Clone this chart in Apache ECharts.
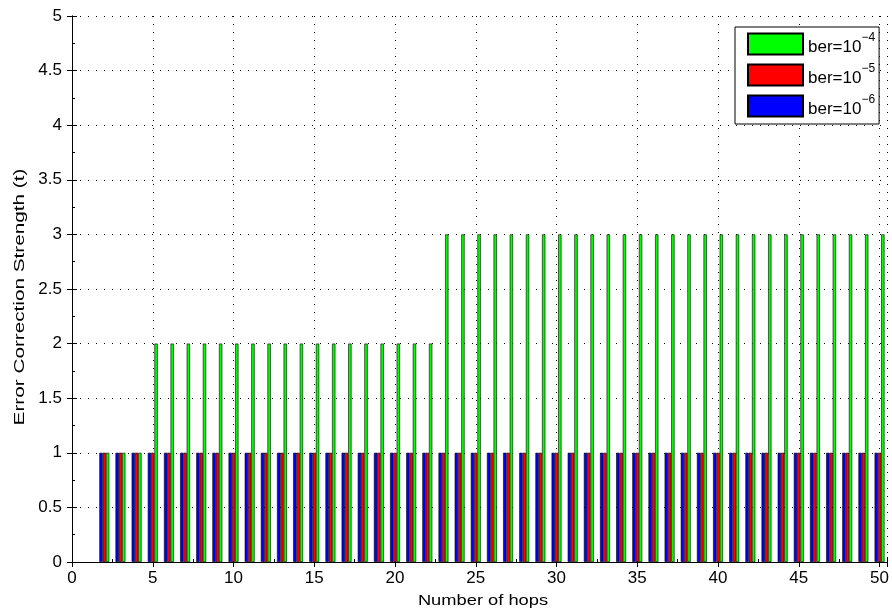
<!DOCTYPE html>
<html>
<head>
<meta charset="utf-8">
<script src="https://cdn.jsdelivr.net/npm/echarts@6/dist/echarts.min.js"></script>
<style>
  html, body { margin: 0; padding: 0; background: #fff; }
  #chart { width: 892px; height: 612px; }
</style>
</head>
<body>
<div id="chart"></div>
<script>
// hops on the x axis
const hops = [2, 3, 4, 5, 6, 7, 8, 9, 10, 11, 12, 13, 14, 15, 16, 17, 18, 19, 20, 21, 22, 23, 24, 25, 26,
  27, 28, 29, 30, 31, 32, 33, 34, 35, 36, 37, 38, 39, 40, 41, 42, 43, 44, 45, 46, 47, 48, 49, 50]

// error correction strength per ber
const ber4 = [1, 1, 1, 2, 2, 2, 2, 2, 2, 2, 2, 2, 2, 2, 2, 2, 2, 2, 2, 2, 2, 3, 3, 3, 3,
  3, 3, 3, 3, 3, 3, 3, 3, 3, 3, 3, 3, 3, 3, 3, 3, 3, 3, 3, 3, 3, 3, 3, 3]
const ber5 = [1, 1, 1, 1, 1, 1, 1, 1, 1, 1, 1, 1, 1, 1, 1, 1, 1, 1, 1, 1, 1, 1, 1, 1, 1,
  1, 1, 1, 1, 1, 1, 1, 1, 1, 1, 1, 1, 1, 1, 1, 1, 1, 1, 1, 1, 1, 1, 1, 1]
const ber6 = [1, 1, 1, 1, 1, 1, 1, 1, 1, 1, 1, 1, 1, 1, 1, 1, 1, 1, 1, 1, 1, 1, 1, 1, 1,
  1, 1, 1, 1, 1, 1, 1, 1, 1, 1, 1, 1, 1, 1, 1, 1, 1, 1, 1, 1, 1, 1, 1, 1]

const font = 'Liberation Sans, Arial, sans-serif'
const dotted = { color: '#000', width: 1, type: [1, 7] }

const mkSeries = (name, vals, color) => ({
  name,
  type: 'bar',
  xAxisIndex: 0,
  yAxisIndex: 0,
  barWidth: 3.3,
  barGap: '0%',
  data: hops.map((h, i) => [h, vals[i]]),
  itemStyle: { color, borderColor: '#000', borderWidth: 0.6 },
  emphasis: { disabled: true },
})

const supMap = { 'ber=1e-4': '4', 'ber=1e-5': '5', 'ber=1e-6': '6' }

const chart = echarts.init(document.getElementById('chart'), null, { renderer: 'canvas' })
chart.setOption({
  animation: false,
  textStyle: { fontFamily: font },
  grid: { left: 72, top: 16, right: 3, bottom: 50 },
  legend: {
    left: 735,
    top: 27,
    orient: 'vertical',
    data: ['ber=1e-4', 'ber=1e-5', 'ber=1e-6'],
    icon: 'rect',
    itemWidth: 55,
    itemHeight: 21,
    itemGap: 7,
    padding: [5, 4, 6, 12],
    borderColor: '#000',
    borderWidth: 1,
    backgroundColor: '#fff',
    selectedMode: false,
    formatter: name => '{b|ber=10}{s|\u2212' + supMap[name] + '}',
    textStyle: {
      rich: {
        b: { fontSize: 17, color: '#000', lineHeight: 24, verticalAlign: 'bottom', fontFamily: font },
        s: { fontSize: 12, color: '#000', lineHeight: 24, verticalAlign: 'top', fontFamily: font },
      },
    },
  },
  graphic: [
    {
      type: 'text',
      x: 483,
      y: 601,
      scaleX: 1.22,
      silent: true,
      style: { text: 'Number of hops', font: '15px ' + font, fill: '#000', align: 'center', verticalAlign: 'middle' },
    },
    {
      type: 'text',
      x: 20,
      y: 297,
      rotation: Math.PI / 2,
      scaleX: 1.48,
      silent: true,
      style: { text: 'Error Correction Strength (t)', font: '14px ' + font, fill: '#000', align: 'center', verticalAlign: 'middle' },
    },
  ],
  xAxis: [
    {
      type: 'value',
      min: 0,
      max: 50.5,
      interval: 5,
      axisLine: { lineStyle: { color: '#000', width: 1 } },
      axisTick: { inside: true, length: 5, lineStyle: { color: '#000' } },
      minorTick: { show: true, splitNumber: 2, length: 3, lineStyle: { color: '#000' } },
      axisLabel: {
        fontSize: 17, color: '#000', margin: 8, fontFamily: font,
        formatter: v => (v % 5 === 0 ? String(v) : ''),
      },
      splitLine: { show: true, lineStyle: dotted },
    },
    {
      type: 'value',
      position: 'top',
      min: 0,
      max: 50.5,
      interval: 5,
      axisLine: { lineStyle: { color: '#000', width: 1 } },
      axisTick: { inside: true, length: 5, lineStyle: { color: '#000' } },
      axisLabel: { show: false },
      splitLine: { show: false },
    },
  ],
  yAxis: [
    {
      type: 'value',
      min: 0,
      max: 5,
      interval: 0.5,
      axisLine: { show: true, lineStyle: { color: '#000', width: 1 } },
      axisTick: { show: true, inside: true, length: 5, lineStyle: { color: '#000' } },
      minorTick: { show: true, splitNumber: 2, length: 3, lineStyle: { color: '#000' } },
      axisLabel: { fontSize: 17, color: '#000', margin: 10, fontFamily: font },
      splitLine: { show: true, lineStyle: dotted },
    },
    {
      type: 'value',
      position: 'right',
      min: 0,
      max: 5,
      interval: 0.5,
      axisLine: { show: true, lineStyle: { color: '#000', width: 1 } },
      axisTick: { show: true, inside: true, length: 5, lineStyle: { color: '#000' } },
      axisLabel: { show: false },
      splitLine: { show: false },
    },
  ],
  series: [
    mkSeries('ber=1e-6', ber6, '#0000ff'),
    mkSeries('ber=1e-5', ber5, '#ff0000'),
    mkSeries('ber=1e-4', ber4, '#00ff00'),
  ],
})
</script>
</body>
</html>
